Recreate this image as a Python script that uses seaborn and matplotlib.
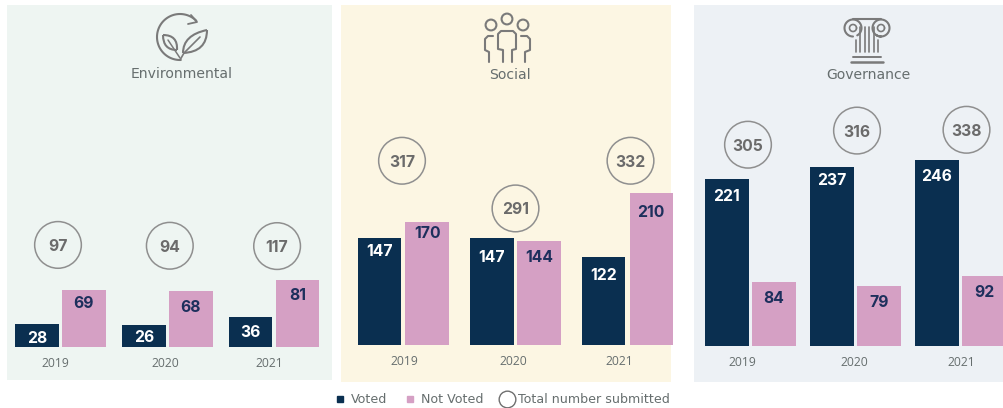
import numpy as np
import pandas as pd
import matplotlib
matplotlib.use("Agg")
import matplotlib.pyplot as plt
from matplotlib.lines import Line2D
from matplotlib.patches import Rectangle, Circle, PathPatch
from matplotlib.path import Path
import seaborn as sns

# ---- data ----
years = ["2019", "2020", "2021"]
status = ["Voted", "Not Voted"]
panel_names = ["Environmental", "Social", "Governance"]

env_voted = [28, 26, 36]
env_not_voted = [69, 68, 81]
env_total = [97, 94, 117]

soc_voted = [147, 147, 122]
soc_not_voted = [170, 144, 210]
soc_total = [317, 291, 332]

gov_voted = [221, 237, 246]
gov_not_voted = [84, 79, 92]
gov_total = [305, 316, 338]

# ---- style / layout (pixels of the 1004x408 picture) ----
W, H = 1004, 408
NAVY, PINK, GREY, RING = "#0A2F50", "#D5A0C4", "#666E6E", "#8F8F8F"
ICON = "#7A7A7A"
BODY = ["Inter", "DejaVu Sans"]

sns.set_theme(style="white")
plt.rcParams["font.family"] = BODY

layout = [
    dict(x0=7, x1=332, axr=332, y1=380, base=346.5, scale=0.82, first=60.5, period=106.8, pitch=47,
         bg="#EEF5F2", title_y=74, title_x=181.5,
         lift=[45, 45, 34], ring_dx=[-2.5, 2.5, 3], tick_dx=[-5, -1.5, -5]),
    dict(x0=341, x1=671, axr=680, y1=382, base=345, scale=0.725, first=403.5, period=112, pitch=47.5,
         bg="#FCF6E3", title_y=75, title_x=509.5,
         lift=[61, 30, 32], ring_dx=[-1.5, 0, 3], tick_dx=[0.5, -2, -8]),
    dict(x0=694, x1=1004, axr=1004, y1=382, base=346, scale=0.757, first=750.5, period=105, pitch=47,
         bg="#EDF1F5", title_y=75, title_x=868.5,
         lift=[34, 36, 30], ring_dx=[-2.5, 1.5, 6], tick_dx=[-8, -1.5, 1]),
]
series = [
    (env_voted, env_not_voted, env_total),
    (soc_voted, soc_not_voted, soc_total),
    (gov_voted, gov_not_voted, gov_total),
]
label_drop = [
    ([13, 11, 14], [12, 15, 14]),
    ([12, 18, 17], [10, 15, 18]),
    ([16, 12, 15], [15, 15, 15]),
]

fig = plt.figure(figsize=(W / 100, H / 100), dpi=100, facecolor="white")

# Full-figure canvas in picture pixels for panels and pictograms
bg = fig.add_axes([0, 0, 1, 1], zorder=-1)
bg.set_xlim(0, W)
bg.set_ylim(H, 0)
bg.axis("off")


def stroke(pts, lw=1.5, color=ICON):
    bg.plot(*zip(*pts), color=color, lw=lw, solid_capstyle="round", solid_joinstyle="round")


def curve(verts, lw=1.5):
    codes = [Path.MOVETO] + [Path.CURVE3] * (len(verts) - 1)
    bg.add_patch(PathPatch(Path(verts, codes), fc="none", ec=ICON, lw=lw))


def arc(cx, cy, r, a0, a1, lw=1.5):
    t = np.radians(np.linspace(a0, a1, 60))
    bg.plot(cx + r * np.cos(t), cy - r * np.sin(t), color=ICON, lw=lw, solid_capstyle="round")


for cfg in layout:
    bg.add_patch(Rectangle((cfg["x0"], 5), cfg["x1"] - cfg["x0"], cfg["y1"] - 5,
                           fc=cfg["bg"], ec="none"))

# Environmental pictogram
arc(180, 37, 23, 45, 272)
stroke([(191, 15), (197, 22), (188, 24)], 1.3)
curve([(183, 53), (183, 35), (207, 30)])
curve([(207, 30), (207, 52), (183, 53)])
stroke([(180, 60), (184, 53), (200, 37)], 1.2)
curve([(177, 50), (163, 50), (163, 35)])
curve([(163, 35), (178, 35), (177, 50)])
stroke([(168, 40), (180, 58)], 1.1)

# Social pictogram
for cx, cy in [(491, 25), (507, 19), (523, 25)]:
    bg.add_patch(Circle((cx, cy), 5.4, fc="none", ec=ICON, lw=1.5))
stroke([(503, 62), (503, 50), (498, 49), (498, 34), (501, 31), (513, 31), (516, 34), (516, 49), (512, 50), (512, 62)])
stroke([(489, 62), (489, 52), (485, 50), (485, 39), (488, 36), (493, 36)])
stroke([(525, 62), (525, 52), (530, 50), (530, 39), (527, 36), (521, 36)])

# Governance pictogram
stroke([(853, 19), (881, 19)], 1.5)
arc(853, 28, 8.5, -60, 270)
arc(881, 28, 8.5, -120, 270)
arc(853, 28, 3.5, 0, 360, 1.2)
arc(881, 28, 3.5, 0, 360, 1.2)
for cx in (860, 865, 869, 874):
    stroke([(cx, 27), (cx, 52)], 1.2)
stroke([(856, 40), (856, 52)], 1.2)
stroke([(878, 40), (878, 52)], 1.2)
stroke([(853, 57), (881, 57)], 1.4)
stroke([(851, 61.5), (883, 61.5)], 1.8)

# Bars, circles and labels through seaborn on one axes per panel
for cfg, name, (voted, not_voted, total), (drop_v, drop_n) in zip(layout, panel_names, series, label_drop):
    ax = fig.add_axes([cfg["x0"] / W, 1 - cfg["base"] / H,
                       (cfg["axr"] - cfg["x0"]) / W, (cfg["base"] - 5) / H])
    ax.patch.set_alpha(0)
    frame = pd.DataFrame({
        "year": years * 2,
        "status": [status[0]] * 3 + [status[1]] * 3,
        "count": voted + not_voted,
    })
    group = 2 * cfg["pitch"] / cfg["period"]
    sns.barplot(data=frame, x="year", y="count", hue="status", hue_order=status,
                palette=[NAVY, PINK], width=group, gap=1 - 43.5 / cfg["pitch"],
                saturation=1, legend=False, linewidth=0, ax=ax)
    ax.set_xlim((cfg["x0"] - cfg["first"]) / cfg["period"],
                (cfg["axr"] - cfg["first"]) / cfg["period"])
    ax.set_ylim(0, (cfg["base"] - 5) / cfg["scale"])
    ax.set_xlabel("")
    ax.set_ylabel("")
    ax.set_yticks([])
    ax.set_xticks(np.arange(3) + np.array(cfg["tick_dx"]) / cfg["period"], years)
    ax.tick_params(axis="x", length=0, pad=7.5, labelsize=8.7, labelcolor=GREY)
    for t in ax.get_xticklabels():
        t.set_fontfamily(["Open Sans", "DejaVu Sans"])
    sns.despine(ax=ax, left=True, bottom=True)

    tops = np.maximum(voted, not_voted)
    rx = np.arange(3) + np.array(cfg["ring_dx"]) / cfg["period"]
    ry = tops + np.array(cfg["lift"]) / cfg["scale"]
    ax.scatter(rx, ry, s=1130, facecolor="none", edgecolor=RING, linewidth=1.1, clip_on=False)
    for x, y, v in zip(rx, ry, total):
        ax.text(x, y, str(v), ha="center", va="center_baseline", color="#6B6B6B",
                fontsize=11.3, fontweight="bold")

    off = (cfg["pitch"] / 2) / cfg["period"]
    for i in range(3):
        for val, drop, sign, col in ((voted[i], drop_v[i], -1, "white"),
                                     (not_voted[i], drop_n[i], 1, "#1D2F5C")):
            ax.annotate(str(val), (i + sign * off, val), xytext=(0, -drop * 0.72),
                        textcoords="offset points", ha="center", va="center_baseline",
                        color=col, fontsize=11.3, fontweight="bold")

    bg.text(cfg["title_x"], cfg["title_y"], name, ha="center", va="center",
            color=GREY, fontsize=10.1, family="DejaVu Sans")

# Legend
handles = [
    Line2D([], [], ls="", marker="s", ms=4.5, mfc=NAVY, mec=NAVY),
    Line2D([], [], ls="", marker="s", ms=4.5, mfc=PINK, mec=PINK),
    Line2D([], [], ls="", marker="o", ms=12, mfc="none", mec="#6F6F6F", mew=1),
]
fig.legend(handles, ["Voted", "Not Voted", "Total number submitted"], ncol=3, frameon=False,
           loc="center left", bbox_to_anchor=(331 / W, 1 - 399.5 / H),
           labelcolor=GREY, prop=dict(family="DejaVu Sans", size=9.1),
           handletextpad=0.2, columnspacing=1.15, handlelength=1.35, borderpad=0, borderaxespad=0)

fig.savefig("out.png", dpi=100)
